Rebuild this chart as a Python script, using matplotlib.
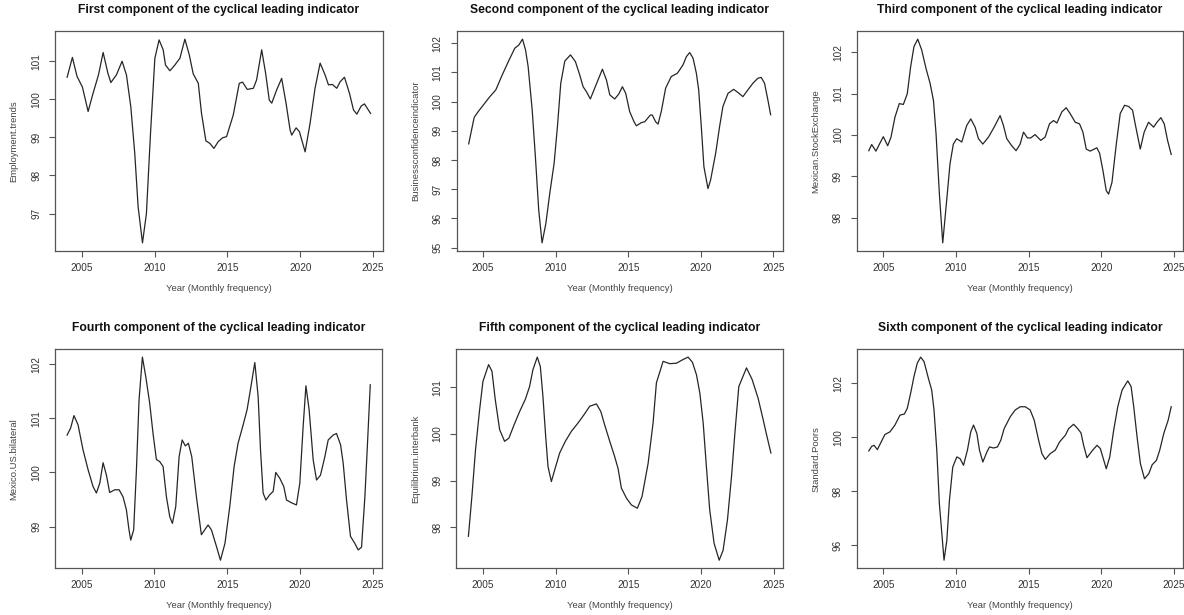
import matplotlib
matplotlib.use('Agg')
import matplotlib.pyplot as plt

plt.rcParams['font.family'] = ['Liberation Sans', 'DejaVu Sans']

# ---------------- data ----------------
titles = ["First component of the cyclical leading indicator",
          "Second component of the cyclical leading indicator",
          "Third component of the cyclical leading indicator",
          "Fourth component of the cyclical leading indicator",
          "Fifth component of the cyclical leading indicator",
          "Sixth component of the cyclical leading indicator"]
ylabels = ["Employment.trends", "Businessconfidenceindicator", "Mexican.StockExchange",
           "Mexico.US.bilateral", "Equilibrium.interbank", "Standard.Poors"]
xlabel = "Year (Monthly frequency)"
xticks = [2005, 2010, 2015, 2020, 2025]
yticks1 = [97, 98, 99, 100, 101]
yticks2 = [95, 96, 97, 98, 99, 100, 101, 102]
yticks3 = [98, 99, 100, 101, 102]
yticks4 = [99, 100, 101, 102]
yticks5 = [98, 99, 100, 101]
yticks6 = [96, 98, 100, 102]

x1 = [2004.0, 2004.36, 2004.68, 2005.05, 2005.44, 2005.78, 2006.15, 2006.47, 2006.8, 2007.0,
      2007.38, 2007.77, 2008.07, 2008.37, 2008.64, 2008.87, 2009.17, 2009.44, 2009.72, 2010.02,
      2010.31, 2010.59, 2010.75, 2011.05, 2011.39, 2011.74, 2012.08, 2012.38, 2012.65, 2013.0,
      2013.22, 2013.52, 2013.8, 2014.07, 2014.37, 2014.67, 2014.94, 2015.4, 2015.81, 2016.04,
      2016.36, 2016.78, 2017.0, 2017.35, 2017.62, 2017.87, 2018.04, 2018.38, 2018.72, 2019.02,
      2019.3, 2019.41, 2019.71, 2019.94, 2020.1, 2020.33, 2020.67, 2021.01, 2021.36, 2021.7,
      2021.93, 2022.2, 2022.5, 2022.73, 2023.03, 2023.37, 2023.65, 2023.88, 2024.17, 2024.4, 2024.82]
y1 = [100.58, 101.1, 100.6, 100.32, 99.68, 100.16, 100.64, 101.23, 100.68, 100.44,
      100.64, 101.0, 100.64, 99.8, 98.58, 97.18, 96.23, 97.0, 99.1, 101.08,
      101.56, 101.3, 100.9, 100.75, 100.9, 101.08, 101.58, 101.17, 100.67, 100.42,
      99.63, 98.91, 98.84, 98.71, 98.89, 98.99, 99.02, 99.59, 100.42, 100.45,
      100.26, 100.29, 100.51, 101.3, 100.68, 99.98, 99.9, 100.25, 100.55, 99.9,
      99.19, 99.06, 99.25, 99.15, 98.93, 98.62, 99.37, 100.29, 100.95, 100.64,
      100.38, 100.39, 100.29, 100.46, 100.58, 100.16, 99.72, 99.61, 99.82, 99.88, 99.63]

x2 = [2004.0, 2004.38, 2004.66, 2005.07, 2005.46, 2005.87, 2006.31, 2006.79, 2007.18, 2007.46,
      2007.71, 2007.92, 2008.1, 2008.38, 2008.6, 2008.83, 2009.06, 2009.32, 2009.59, 2009.89,
      2010.12, 2010.35, 2010.63, 2011.02, 2011.36, 2011.66, 2011.89, 2012.12, 2012.39, 2012.69,
      2013.22, 2013.5, 2013.73, 2014.07, 2014.35, 2014.6, 2014.83, 2015.1, 2015.4, 2015.56,
      2015.91, 2016.14, 2016.53, 2016.66, 2016.89, 2017.06, 2017.28, 2017.58, 2017.97, 2018.39,
      2018.78, 2019.01, 2019.24, 2019.47, 2019.7, 2019.86, 2020.04, 2020.22, 2020.5, 2020.68,
      2021.03, 2021.3, 2021.53, 2021.88, 2022.27, 2022.57, 2022.91, 2023.25, 2023.6, 2023.94,
      2024.17, 2024.4, 2024.63, 2024.82]
y2 = [98.55, 99.46, 99.66, 99.92, 100.17, 100.40, 100.91, 101.43, 101.83, 101.94,
      102.14, 101.77, 101.2, 99.71, 98.11, 96.28, 95.16, 95.82, 96.85, 97.88,
      99.14, 100.63, 101.39, 101.6, 101.37, 100.91, 100.51, 100.34, 100.09, 100.46,
      101.11, 100.74, 100.23, 100.09, 100.26, 100.51, 100.28, 99.66, 99.31, 99.17,
      99.28, 99.31, 99.54, 99.54, 99.31, 99.23, 99.66, 100.46, 100.86, 100.97,
      101.26, 101.54, 101.68, 101.49, 100.97, 100.4, 99.14, 97.77, 97.02, 97.31,
      98.23, 99.14, 99.83, 100.28, 100.42, 100.31, 100.17, 100.4, 100.63, 100.8,
      100.83, 100.63, 100.06, 99.55]

x3 = [2004.0, 2004.2, 2004.49, 2004.72, 2005.0, 2005.3, 2005.53, 2005.8, 2006.1, 2006.38,
      2006.65, 2006.88, 2007.11, 2007.37, 2007.64, 2007.94, 2008.22, 2008.45, 2008.63, 2008.86,
      2009.09, 2009.36, 2009.59, 2009.82, 2010.05, 2010.4, 2010.74, 2011.02, 2011.32, 2011.55,
      2011.85, 2012.24, 2012.63, 2013.04, 2013.27, 2013.5, 2013.84, 2014.14, 2014.42, 2014.65,
      2014.92, 2015.15, 2015.45, 2015.84, 2016.14, 2016.44, 2016.72, 2016.95, 2017.29, 2017.59,
      2017.86, 2018.21, 2018.51, 2018.74, 2018.97, 2019.24, 2019.7, 2019.89, 2020.12, 2020.35,
      2020.51, 2020.74, 2021.04, 2021.31, 2021.61, 2021.89, 2022.16, 2022.34, 2022.57, 2022.69,
      2022.96, 2023.26, 2023.61, 2023.84, 2024.11, 2024.34, 2024.57, 2024.82]
y3 = [99.62, 99.77, 99.61, 99.77, 99.96, 99.74, 99.95, 100.43, 100.76, 100.74,
      101.0, 101.65, 102.14, 102.32, 102.06, 101.61, 101.25, 100.84, 100.03, 98.57,
      97.39, 98.41, 99.3, 99.78, 99.91, 99.83, 100.23, 100.39, 100.19, 99.91,
      99.78, 99.95, 100.19, 100.47, 100.23, 99.91, 99.74, 99.62, 99.78, 100.07,
      99.93, 99.93, 100.01, 99.87, 99.95, 100.27, 100.35, 100.29, 100.56, 100.66,
      100.52, 100.31, 100.27, 100.07, 99.66, 99.61, 99.69, 99.56, 99.14, 98.65,
      98.57, 98.85, 99.78, 100.52, 100.72, 100.69, 100.6, 100.27, 99.87, 99.66,
      100.07, 100.31, 100.19, 100.31, 100.42, 100.27, 99.87, 99.53]

x4 = [2004.0, 2004.24, 2004.47, 2004.75, 2005.09, 2005.44, 2005.78, 2006.01, 2006.24, 2006.47,
      2006.7, 2006.92, 2007.27, 2007.57, 2007.84, 2008.07, 2008.25, 2008.37, 2008.57, 2008.76,
      2008.94, 2009.17, 2009.4, 2009.67, 2009.9, 2010.13, 2010.36, 2010.59, 2010.82, 2011.05,
      2011.23, 2011.46, 2011.69, 2011.9, 2012.12, 2012.33, 2012.56, 2012.88, 2013.22, 2013.45,
      2013.68, 2013.91, 2014.26, 2014.53, 2014.84, 2015.17, 2015.47, 2015.74, 2016.09, 2016.36,
      2016.59, 2016.89, 2017.12, 2017.28, 2017.46, 2017.65, 2017.92, 2018.15, 2018.33, 2018.61,
      2018.88, 2019.07, 2019.41, 2019.75, 2019.98, 2020.21, 2020.4, 2020.62, 2020.9, 2021.13,
      2021.4, 2021.7, 2021.93, 2022.27, 2022.5, 2022.78, 2022.96, 2023.19, 2023.46, 2023.76,
      2023.99, 2024.22, 2024.45, 2024.63, 2024.82]
y4 = [100.69, 100.82, 101.05, 100.88, 100.42, 100.05, 99.74, 99.62, 99.8, 100.18,
      99.95, 99.63, 99.68, 99.68, 99.55, 99.31, 98.94, 98.75, 98.94, 100.05,
      101.34, 102.13, 101.77, 101.28, 100.72, 100.24, 100.2, 100.11, 99.55, 99.18,
      99.06, 99.37, 100.29, 100.6, 100.49, 100.54, 100.29, 99.55, 98.85, 98.94,
      99.03, 98.94, 98.63, 98.38, 98.69, 99.37, 100.11, 100.54, 100.88, 101.16,
      101.53, 102.03, 101.4, 100.42, 99.62, 99.49, 99.59, 99.65, 100.0, 99.89,
      99.74, 99.49, 99.44, 99.4, 99.8, 100.85, 101.6, 101.16, 100.23, 99.86,
      99.95, 100.29, 100.6, 100.69, 100.72, 100.51, 100.17, 99.49, 98.82, 98.69,
      98.57, 98.62, 99.55, 100.54, 101.62]

x5 = [2004.0, 2004.24, 2004.49, 2004.77, 2005.0, 2005.39, 2005.62, 2005.85, 2006.15, 2006.49,
      2006.79, 2007.14, 2007.53, 2007.92, 2008.21, 2008.44, 2008.74, 2008.95, 2009.13, 2009.32,
      2009.48, 2009.71, 2009.94, 2010.28, 2010.67, 2011.08, 2011.54, 2011.96, 2012.35, 2012.81,
      2013.11, 2013.38, 2013.73, 2014.07, 2014.3, 2014.53, 2014.89, 2015.22, 2015.63, 2015.95,
      2016.37, 2016.71, 2016.94, 2017.4, 2017.86, 2018.32, 2018.78, 2019.12, 2019.42, 2019.7,
      2019.93, 2020.16, 2020.38, 2020.61, 2020.91, 2021.26, 2021.53, 2021.83, 2022.11, 2022.34,
      2022.61, 2023.14, 2023.53, 2023.94, 2024.29, 2024.47, 2024.82]
y5 = [97.81, 98.66, 99.66, 100.51, 101.12, 101.48, 101.34, 100.73, 100.09, 99.84,
      99.91, 100.19, 100.48, 100.74, 101.01, 101.37, 101.64, 101.44, 100.8, 99.94,
      99.3, 98.98, 99.23, 99.59, 99.84, 100.05, 100.23, 100.41, 100.59, 100.64,
      100.48, 100.19, 99.84, 99.51, 99.26, 98.84, 98.62, 98.48, 98.41, 98.66,
      99.37, 100.23, 101.09, 101.55, 101.5, 101.51, 101.59, 101.64, 101.53, 101.26,
      100.87, 100.23, 99.3, 98.37, 97.66, 97.3, 97.51, 98.16, 99.09, 100.01,
      101.01, 101.41, 101.16, 100.76, 100.3, 100.05, 99.59]

x6 = [2004.0, 2004.2, 2004.36, 2004.59, 2004.82, 2005.11, 2005.46, 2005.8, 2006.15, 2006.45,
      2006.65, 2006.88, 2007.11, 2007.34, 2007.57, 2007.8, 2008.1, 2008.33, 2008.49, 2008.68,
      2008.86, 2009.18, 2009.37, 2009.55, 2009.78, 2010.06, 2010.29, 2010.52, 2010.79, 2011.02,
      2011.21, 2011.44, 2011.62, 2011.85, 2012.13, 2012.31, 2012.59, 2012.86, 2013.09, 2013.32,
      2013.74, 2014.08, 2014.43, 2014.77, 2015.11, 2015.39, 2015.69, 2015.92, 2016.15, 2016.49,
      2016.84, 2017.14, 2017.53, 2017.76, 2018.1, 2018.38, 2018.61, 2018.79, 2019.02, 2019.37,
      2019.71, 2019.94, 2020.35, 2020.59, 2020.86, 2021.14, 2021.44, 2021.83, 2022.06, 2022.24,
      2022.47, 2022.7, 2022.98, 2023.28, 2023.51, 2023.8, 2024.03, 2024.31, 2024.61, 2024.82]
y6 = [99.49, 99.66, 99.7, 99.54, 99.79, 100.1, 100.2, 100.45, 100.82, 100.86,
      101.07, 101.63, 102.25, 102.75, 102.97, 102.81, 102.19, 101.75, 101.01, 99.52,
      97.53, 95.44, 96.16, 97.65, 98.89, 99.27, 99.2, 98.96, 99.52, 100.2,
      100.45, 100.14, 99.52, 99.08, 99.45, 99.64, 99.6, 99.64, 99.89, 100.32,
      100.76, 101.01, 101.13, 101.13, 101.01, 100.63, 99.89, 99.39, 99.18, 99.39,
      99.52, 99.83, 100.07, 100.32, 100.48, 100.32, 100.16, 99.7, 99.24, 99.49,
      99.7, 99.58, 98.83, 99.27, 100.26, 101.13, 101.75, 102.09, 101.88, 101.13,
      100.01, 99.02, 98.46, 98.65, 98.98, 99.14, 99.52, 100.14, 100.63, 101.13]

# ---------------- layout ----------------
W, H = 1184, 615
fig = plt.figure(figsize=(W / 100, H / 100), dpi=100)

boxes = [(55, 31, 382.7, 251), (456.6, 31, 782.7, 251), (856.7, 31, 1183.3, 251),
         (55, 349, 382.4, 568.3), (456.3, 349, 783, 568.3), (856.7, 349, 1183.3, 568.3)]
xs = [x1, x2, x3, x4, x5, x6]
ys = [y1, y2, y3, y4, y5, y6]
ytk = [yticks1, yticks2, yticks3, yticks4, yticks5, yticks6]

for i in range(6):
    l, t, r, b = boxes[i]
    ax = fig.add_axes([l / W, 1 - b / H, (r - l) / W, (b - t) / H])
    ax.plot(xs[i], ys[i], color='#262626', lw=0.9, solid_joinstyle='round')
    ax.margins(x=0.04, y=0.04)
    ax.set_xticks(xticks)
    ax.set_yticks(ytk[i])
    ax.set_xticklabels([str(v) for v in xticks])
    ax.set_yticklabels([str(v) for v in ytk[i]], rotation=90, va='center')
    ax.tick_params(axis='both', direction='out', length=4, width=0.8, color='#555555',
                   labelsize=7.2, labelcolor='#333333')
    ax.tick_params(axis='x', pad=4.5)
    ax.tick_params(axis='y', pad=6)
    for s in ax.spines.values():
        s.set_color('#555555')
        s.set_linewidth(0.9)
    h = b - t
    w = r - l
    ax.set_title(titles[i], fontsize=8.7, fontweight='bold', color='#111111',
                 y=1 + 20.7 / h, va='center', pad=0)
    ax.set_xlabel(xlabel, fontsize=6.8, color='#444444', va='center')
    ax.xaxis.set_label_coords(0.5, -37.5 / h)
    ax.set_ylabel(ylabels[i], fontsize=6.8, color='#444444', va='center')
    ax.yaxis.set_label_coords(-41 / w, 0.5)

fig.savefig('out.png', dpi=100)
